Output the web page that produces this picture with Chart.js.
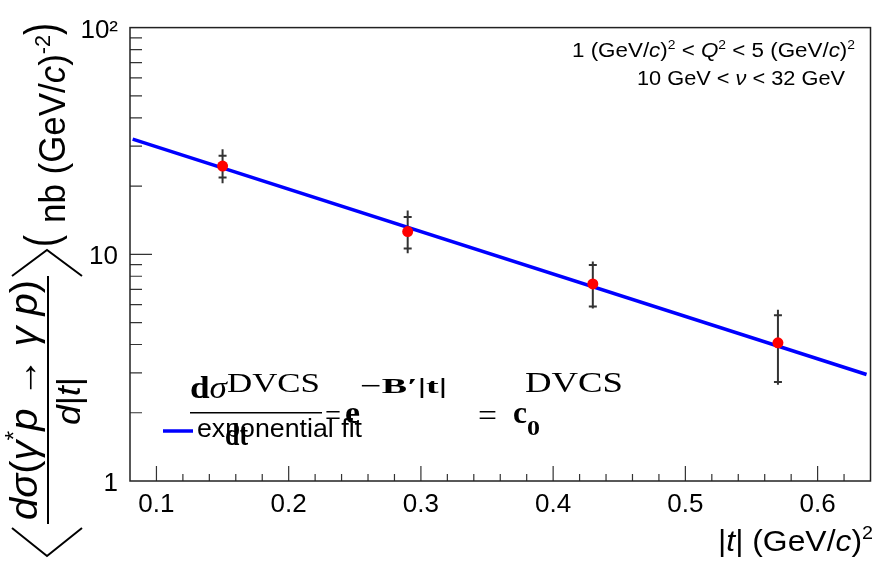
<!DOCTYPE html>
<html>
<head>
<meta charset="utf-8">
<script src="https://cdn.jsdelivr.net/npm/chart.js@4.4.1/dist/chart.umd.min.js"></script>
<style>
  html, body { margin: 0; padding: 0; background: #fff; }
  canvas { display: block; }
</style>
</head>
<body>
<canvas id="chart" width="876" height="566"></canvas>
<script>
// measured points (|t| in GeV^2, cross section in nb/GeV^2)
const tValues = [0.15, 0.29, 0.43, 0.57];
const xsecValues = [24.5, 12.6, 7.4, 4.07];
const statLow = [21.8, 10.6, 5.88, 2.73];
const statHigh = [27.2, 14.6, 8.98, 5.39];
const totLow = [20.6, 10.1, 5.77, 2.66];
const totHigh = [29.1, 15.6, 9.3, 5.69];

// exponential fit, end points of the drawn curve
const fitT = [0.082, 0.637];
const fitValues = [32.2, 2.95];

const xTickValues = [0.1, 0.2, 0.3, 0.4, 0.5, 0.6];
const xTickLabels = ['0.1', '0.2', '0.3', '0.4', '0.5', '0.6'];
const yTickValues = [1, 10, 100];
const yTickLabels = ['1', '10', '10\u00b2'];

const SANS = '"Liberation Sans", Arial, sans-serif';
const SERIF = '"Liberation Serif", "Times New Roman", serif';

function fontOf(st, size) {
    const small = st.includes('^') || st.includes('_');
    const sz = small ? size * 0.62 : size;
    return (st.includes('i') ? 'italic ' : '') + (st.includes('b') ? 'bold ' : '') +
        sz + 'px ' + (st.includes('s') ? SERIF : SANS);
}

// draws a row of text pieces starting at (x, y), stretched to width w
function put(ctx, segs, o) {
    ctx.save();
    let total = 0;
    segs.forEach(([t, st]) => {
        ctx.font = fontOf(st, o.size);
        total += ctx.measureText(t).width;
    });
    ctx.translate(o.x, o.y);
    if (o.rot) ctx.rotate(-Math.PI / 2);
    ctx.scale(o.w ? o.w / total : 1, o.vs || 1);
    ctx.fillStyle = '#000';
    ctx.textAlign = 'left';
    ctx.textBaseline = 'alphabetic';
    let x = 0;
    segs.forEach(([t, st]) => {
        ctx.font = fontOf(st, o.size);
        let dy = 0;
        if (st.includes('^')) dy = -o.size * 0.4;
        if (st.includes('_')) dy = o.size * 0.2;
        ctx.fillText(t, x, dy);
        x += ctx.measureText(t).width;
    });
    ctx.restore();
}

const rootStyle = {
    id: 'rootStyle',
    beforeDatasetsDraw(chart) {
        const ctx = chart.ctx;
        const xs = chart.scales.x, ys = chart.scales.y;
        ctx.save();
        ctx.strokeStyle = '#333';
        ctx.lineWidth = 2;
        tValues.forEach((t, i) => {
            const px = xs.getPixelForValue(t);
            ctx.beginPath();
            ctx.moveTo(px, ys.getPixelForValue(totLow[i]));
            ctx.lineTo(px, ys.getPixelForValue(totHigh[i]));
            [statLow[i], statHigh[i]].forEach(v => {
                const py = ys.getPixelForValue(v);
                ctx.moveTo(px - 4, py);
                ctx.lineTo(px + 4, py);
            });
            ctx.stroke();
        });
        ctx.restore();
    },
    afterDatasetsDraw(chart) {
        const ctx = chart.ctx;
        const a = chart.chartArea;
        const xs = chart.scales.x, ys = chart.scales.y;
        ctx.save();
        ctx.strokeStyle = '#333';
        ctx.lineWidth = 1.2;
        ctx.beginPath();
        // x ticks inside, every 0.02
        for (let k = 1; k < 28; k++) {
            const px = xs.getPixelForValue(0.08 + 0.02 * k);
            const len = (k - 1) % 5 === 0 ? 15 : 7;
            ctx.moveTo(px, a.bottom);
            ctx.lineTo(px, a.bottom - len);
        }
        // log y ticks inside
        [1, 10].forEach(d => {
            for (let m = 1; m <= 9; m++) {
                if (d === 1 && m === 1) continue;
                const py = ys.getPixelForValue(m * d);
                const len = m === 1 ? 22 : 12;
                ctx.moveTo(a.left, py);
                ctx.lineTo(a.left + len, py);
            }
        });
        ctx.stroke();
        ctx.strokeStyle = '#222';
        ctx.lineWidth = 1.5;
        ctx.strokeRect(a.left, a.top, a.right - a.left, a.bottom - a.top);
        ctx.restore();
    },
    afterDraw(chart) {
        const ctx = chart.ctx;
        ctx.save();

        // kinematic range
        put(ctx, [['1 (GeV/', ''], ['c', 'i'], [')', ''], ['2', '^'], [' < ', ''], ['Q', 'i'], ['2', '^'],
            [' < 5 (GeV/', ''], ['c', 'i'], [')', ''], ['2', '^']], { x: 572, y: 57, w: 283, size: 20 });
        put(ctx, [['10 GeV < ', ''], ['\u03bd', 'i'], [' < 32 GeV', '']], { x: 637, y: 85, w: 208, size: 20 });

        // x title
        put(ctx, [['|', ''], ['t', 'i'], ['| (GeV/', ''], ['c', 'i'], [')', ''], ['2', '^']],
            { x: 718, y: 551, w: 155, size: 29 });

        // y title, rotated
        put(ctx, [['d', 'i'], ['\u03c3', 'i'], ['(', ''], ['\u03b3', 'i'], ['*', '^'], ['p', 'i'],
            [' \u2192 ', ''], ['\u03b3', 'i'], [' ', ''], ['p', 'i'], [')', '']],
            { x: 37, y: 520, w: 240, size: 35, rot: true, vs: 1.1 });
        ctx.fillStyle = '#000';
        ctx.fillRect(47, 276, 2, 248);
        put(ctx, [['d', 'i'], ['|', ''], ['t', 'i'], ['|', '']], { x: 80, y: 425, w: 48, size: 34, rot: true });
        ctx.strokeStyle = '#000';
        ctx.lineWidth = 2;
        ctx.beginPath();
        ctx.moveTo(12, 528); ctx.lineTo(47, 556); ctx.lineTo(82, 528);
        ctx.moveTo(12, 276); ctx.lineTo(47, 250); ctx.lineTo(82, 276);
        ctx.stroke();
        put(ctx, [['(', '']], { x: 57, y: 247, w: 12, size: 46, rot: true });
        put(ctx, [['nb (GeV/', ''], ['c', 'i'], [')', ''], ['-2', '^']],
            { x: 65, y: 223, w: 188, size: 37, rot: true });
        put(ctx, [[')', '']], { x: 57, y: 35, w: 12, size: 46, rot: true });

        // legend entry
        ctx.strokeStyle = '#0000ff';
        ctx.lineWidth = 3.5;
        ctx.beginPath();
        ctx.moveTo(163, 431); ctx.lineTo(193, 431);
        ctx.stroke();
        put(ctx, [['exponential fit', '']], { x: 197, y: 437, w: 165, size: 26 });

        // fit formula (overlapping the legend as in the original)
        put(ctx, [['d', 'bs'], ['\u03c3', 'is']], { x: 190, y: 398, w: 37, size: 32 });
        put(ctx, [['DVCS', 's']], { x: 227, y: 392, w: 93, size: 28 });
        ctx.fillRect(190, 412, 132, 1.5);
        put(ctx, [['dt', 'bs']], { x: 225, y: 445, w: 23, size: 32 });
        put(ctx, [['=', 's']], { x: 325, y: 426, w: 16, size: 32 });
        put(ctx, [['e', 'bs']], { x: 345, y: 423, w: 15, size: 32 });
        put(ctx, [['\u2212B\u2032|t|', 'bs']], { x: 360, y: 393, w: 87, size: 22 });
        put(ctx, [['=', 's']], { x: 478, y: 426, w: 19, size: 32 });
        put(ctx, [['c', 'bs']], { x: 513, y: 423, w: 14, size: 32 });
        put(ctx, [['0', 'bs']], { x: 527, y: 435, w: 13, size: 20 });
        put(ctx, [['DVCS', 's']], { x: 525, y: 392, w: 98, size: 29 });

        ctx.restore();
    }
};

const ctx = document.getElementById('chart').getContext('2d');
new Chart(ctx, {
    type: 'scatter',
    data: {
        datasets: [{
            label: 'data',
            data: tValues.map((t, i) => ({ x: t, y: xsecValues[i] })),
            backgroundColor: '#ff0000',
            borderWidth: 0,
            pointRadius: 5.5,
            order: 0
        }, {
            label: 'exponential fit',
            type: 'line',
            data: fitT.map((t, i) => ({ x: t, y: fitValues[i] })),
            borderColor: '#0000ff',
            borderWidth: 3.5,
            pointRadius: 0,
            fill: false,
            order: 1
        }]
    },
    options: {
        responsive: false,
        animation: false,
        layout: { padding: { top: 21, right: 2, left: 0, bottom: 0 } },
        plugins: {
            legend: { display: false },
            tooltip: { enabled: false }
        },
        scales: {
            x: {
                type: 'linear',
                min: 0.08,
                max: 0.64,
                grid: { display: false, drawTicks: false },
                border: { display: false },
                afterBuildTicks: s => { s.ticks = xTickValues.map(v => ({ value: v })); },
                afterFit: s => { s.height = 85; },
                ticks: {
                    autoSkip: false,
                    maxRotation: 0,
                    padding: 8,
                    color: '#000',
                    font: { family: SANS, size: 26 },
                    callback: (v, i) => xTickLabels[i]
                }
            },
            y: {
                type: 'logarithmic',
                min: 1,
                max: 100,
                grid: { display: false, drawTicks: false },
                border: { display: false },
                afterBuildTicks: s => { s.ticks = yTickValues.map(v => ({ value: v })); },
                afterFit: s => { s.width = 130; },
                ticks: {
                    autoSkip: false,
                    padding: 12,
                    labelOffset: 3,
                    color: '#000',
                    font: { family: SANS, size: 26 },
                    callback: (v, i) => yTickLabels[i]
                }
            }
        }
    },
    plugins: [rootStyle]
});
</script>
</body>
</html>
